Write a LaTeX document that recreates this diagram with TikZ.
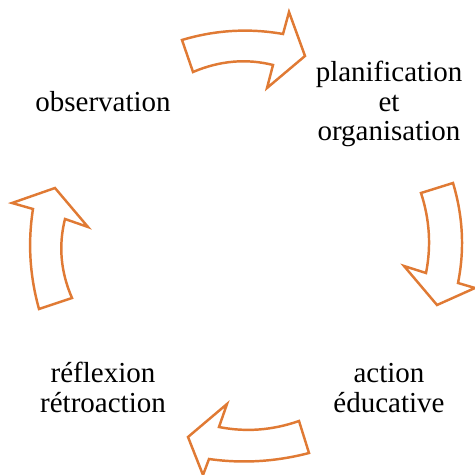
\documentclass[tikz,border=0pt]{standalone}
\usepackage{fontspec}
\setmainfont{Liberation Serif}
\definecolor{cycleorange}{RGB}{224,122,52}

\begin{document}
\begin{tikzpicture}[x=0.02cm, y=-0.02cm,
		blockarrow/.style={line width=1.4pt, draw=cycleorange, fill=white, line join=miter},
		steplabel/.style={align=center, anchor=base, inner sep=0pt, font=\fontsize{16.5}{17}\selectfont}]
				\useasboundingbox (0,0) rectangle (475,475);
				
				% arrow to the right, top
				\draw[blockarrow] (182,40) .. controls (215.3,30) and (249,28) .. (283,34) -- (289,12) -- (305,56) -- (267,88) -- (273,65) .. controls (246.3,58.3) and (219.7,60.7) .. (193,72) -- cycle;
				% arrow down, right
				\draw[blockarrow] (453,183) .. controls (463,216.3) and (464.7,249.7) .. (458,283) -- (475,288) -- (437,305) -- (404,266) -- (426,273) .. controls (431.3,246.3) and (429.7,219.7) .. (421,193) -- cycle;
				% arrow to the left, bottom
				\draw[blockarrow] (309,453) .. controls (275.7,461.7) and (242.3,463.7) .. (209,459) -- (203,475) -- (188,437) -- (227,404) -- (219,427) .. controls (245.7,432.3) and (272.3,430.3) .. (299,421) -- cycle;
				% arrow up, left
				\draw[blockarrow] (39,309) .. controls (29.7,275.7) and (27.7,242.3) .. (33,209) -- (12,203) -- (55,188) -- (88,227) -- (65,219) .. controls (58.3,245.7) and (60.7,272) .. (72,298) -- cycle;
				
				\node[steplabel] (obs) at (103,112) {observation};
				\node[steplabel] (plan) at (389,141) {planification\\et\\organisation};
				\node[steplabel] (act) at (389,412) {action\\éducative};
				\node[steplabel] (refl) at (103,412) {réflexion\\rétroaction};
			\end{tikzpicture}
\end{document}
